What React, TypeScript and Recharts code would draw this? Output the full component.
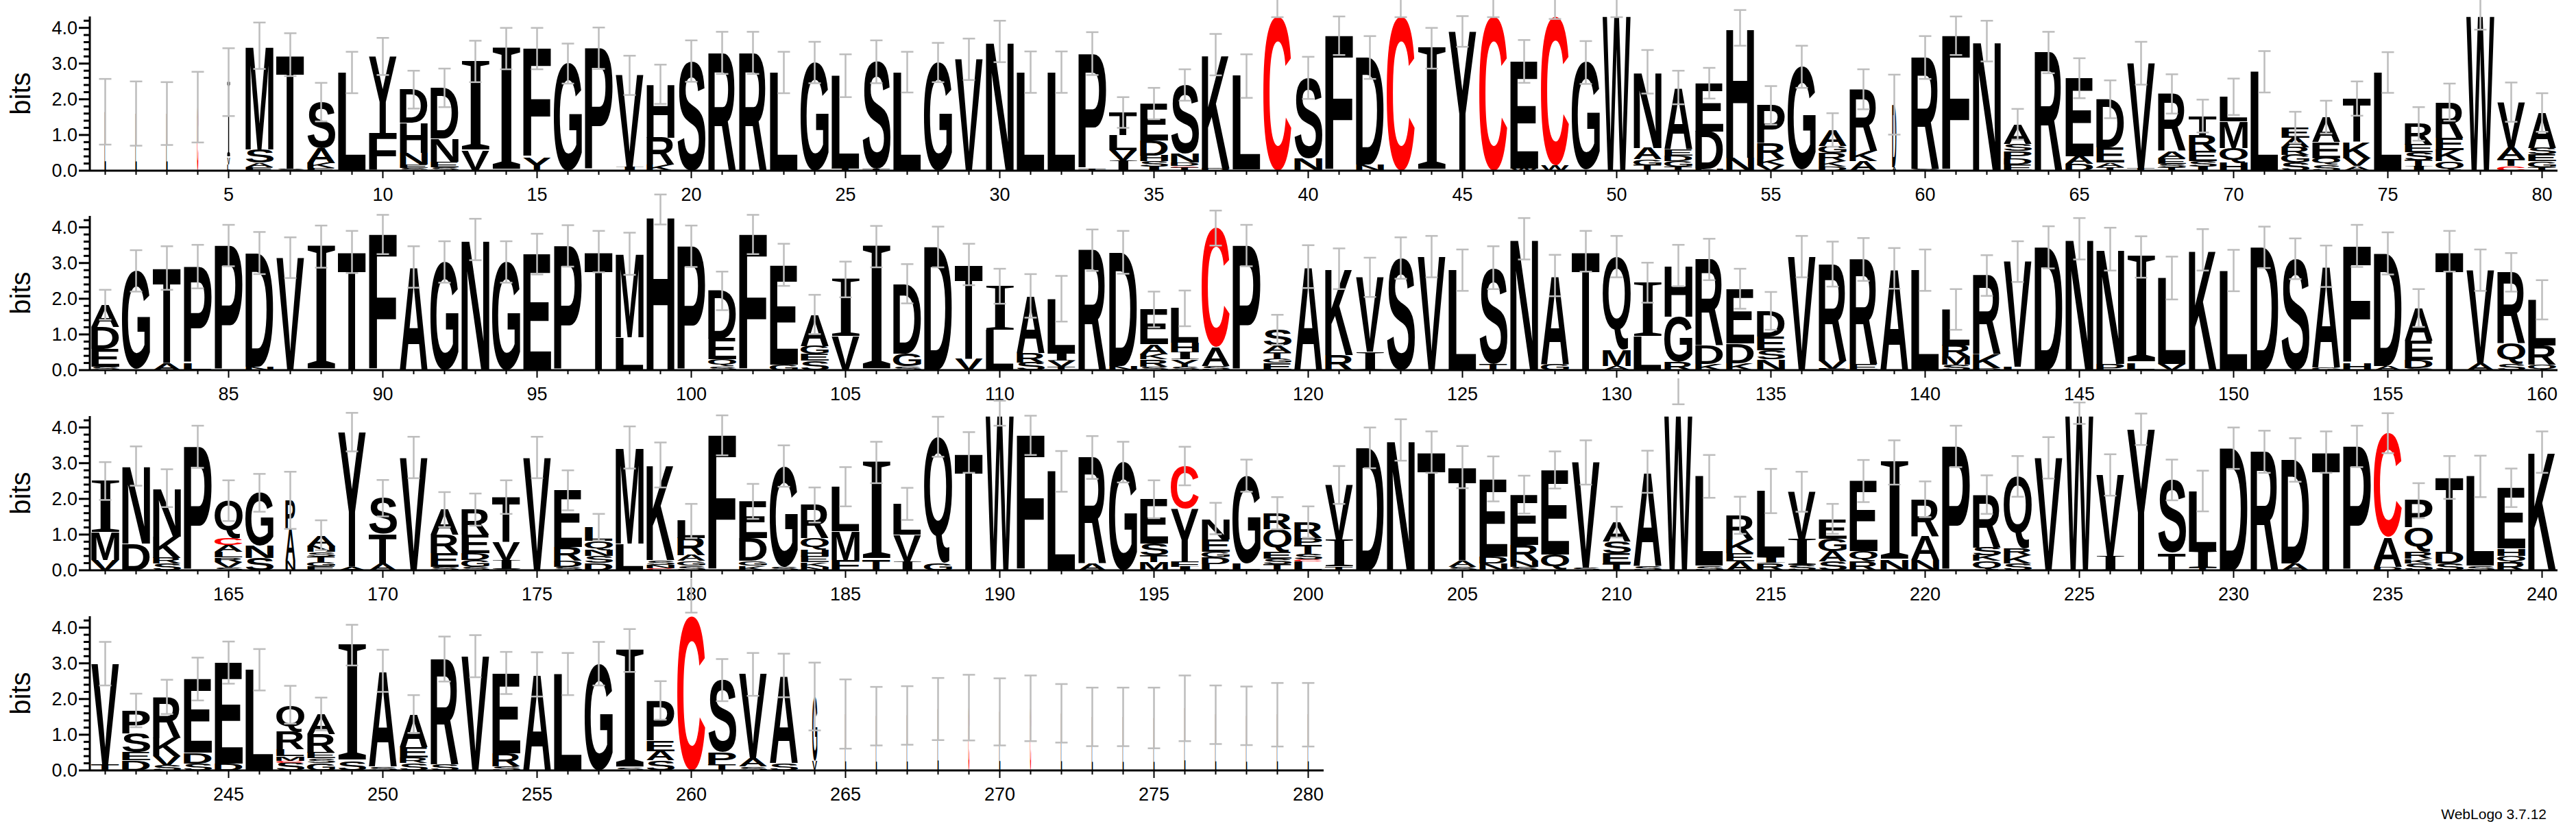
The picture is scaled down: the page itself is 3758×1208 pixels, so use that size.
import React from 'react';
import { ComposedChart, Bar, Line, XAxis, YAxis, ErrorBar } from 'recharts';

const LOGO_FONT = '"Liberation Sans", Arial, sans-serif';
const SERIF_FONT = '"Liberation Serif", "DejaVu Serif", serif';
const AXIS_FONT = '"Liberation Sans", Arial, sans-serif';

// each stack: letters from the top down, letter followed by its height in bits
const row1Stacks = [
  'L1.65', 'L1.6', 'L1.6', 'C1.78', 'I2.1 V.2 L.18', 'M2.9 S.38 A.12 E.1', 'T3.2 S.05', 'S1.28 A.42 K.15 E.07', 'L2.75', 'Y2.16 F1.04',
  'D.92 H.85 N.33 E.1 S.07', 'D1.42 N.65 E.15 S.1', 'I2.5 V.56', 'I3.42', 'F3.05 Y.37', 'G3.0', 'P3.43', 'V2.57 I.1', 'H1.5 R.75 K.17', 'S3.07',
  'R3.3', 'R3.3', 'L2.75', 'G3.03', 'L2.6 T.06', 'S3.0 T.05', 'L2.76', 'G3.03', 'V3.12', 'N3.62',
  'L2.76', 'L2.76', 'P3.23 T.05', 'T.64 L.42 V.29 I.28', 'E1.04 D.42 H.16 S.14 I.12', 'S1.92 N.25 D.1 C.03 T.1', 'K3.19 D.06', 'L2.62 E.03', 'C4.8', 'S2.25 N.33 D.02',
  'F3.78', 'D3.0 N.17', 'C4.8', 'I3.43', 'Y3.9', 'C4.8', 'E3.0 W.06', 'C4.5 W.15', 'G3.0 S.03', 'W4.75',
  'N2.13 A.32 G.16 T.16', 'A1.73 E.18 D.15 G.15 T.12', 'E1.35 D1.05 N.05', 'H3.64 N.36', 'P1.06 R.45 K.17 V.15', 'G2.88 T.03', 'A.45 G.2 R.22 K.15 D.12', 'R1.73 K.29 A.26', 'D1.75 A.1', 'R3.13 S.04',
  'F3.78', 'N3.63', 'A.55 S.2 P.2 D.17 E.18', 'R3.31', 'E2.18 A.22 D.19', 'D1.35 E.42 A.13 T.1', 'V2.95 T.06', 'R1.6 A.2 E.15 S.1 T.1', 'T.53 R.45 E.29 S.14 I.12', 'L.69 M.74 Q.42 H.22',
  'L2.77', 'E.29 A.26 R.22 G.22 S.22', 'A.7 E.45 Q.19 S.16', 'T1.22 K.45 V.22 A.13', 'L2.75', 'R.58 E.22 S.22 T.16 I.13', 'R.99 E.35 K.32 Q.26', 'W4.4', 'V1.28 A.32 T.19 C.13', 'A.99 S.19 E.19 G.16 T.1',
];
const row2Stacks = [
  'A.62 D.62 E.49 S.1', 'G2.75 A.03', 'T2.66 A.2', 'P2.7 L.2', 'P3.49', 'D3.18 N.1', 'V3.15', 'I3.46', 'T3.31', 'F3.8',
  'A2.89', 'G3.03', 'N3.66', 'G3.03', 'E3.25', 'P3.48', 'T3.32', 'M2.34 L.92', 'H4.5', 'P3.47',
  'D1.34 E.58 Q.2 S.1', 'F3.8', 'E2.79 G.16', 'A.88 G.23 E.19 S.26', 'I1.6 V.94', 'I3.46', 'D1.95 G.36 S.11', 'D3.45', 'T2.65 V.31', 'I1.23 L1.12',
  'A1.6 R.26 S.22', 'L1.53 I.2 V.17 T.1', 'R3.36', 'D3.18 N.12', 'E.97 A.28 K.15 R.2 S.1', 'L.97 H.26 I.2 Y.2 S.1', 'C3.34 A.52 S.12', 'P3.49', 'S.45 A.19 T.16 G.13 E.2', 'A2.9',
  'K2.42 R.42', 'V2.08 I.52', 'S3.14', 'V3.18', 'L2.8', 'S2.69 T.18', 'N3.68', 'A2.47 G.18', 'T3.33', 'Q2.61 M.45 A.12',
  'I1.51 L.94', 'H1.43 G1.27 R.23', 'R2.4 D.52 K.18', 'E1.53 D.55 K.2', 'D.71 E.39 S.26 N.3', 'V3.18', 'R2.7 V.23 E.04', 'R2.92 E.18', 'A2.85', 'L2.8',
  'L1.0 R.32 M.23 S.15', 'R2.21 K.39 D.05', 'V2.94 L.1', 'D3.44', 'N3.68', 'N3.21 P.18', 'I2.97 L.2', 'L2.4 V.18', 'K3.37', 'L2.79',
  'D3.44', 'S3.12', 'A2.84 G.07', 'F3.28 H.2', 'D3.15 A.12', 'A.91 E.55 D.23 S.05', 'T3.33', 'V2.6 A.2', 'R1.98 Q.58 S.18', 'L1.27 R.55 Q.15',
];
const row3Stacks = [
  'I1.44 M.77 V.29', 'N2.18 D.74', 'N1.35 K.6 R.16 S.19', 'P3.46', 'Q1.06 C.19 A.19 L.15 R.13 V.15 S.08', 'G1.48 N.35 S.34', 'P.8 A.9 N.26', 'A.3 N.17 S.13 T.14 G.13 E.11', 'Y3.77 A.1', 'S1.0 T.83 A.19',
  'V3.16', 'A.71 R.51 E.39 S.09', 'R.71 E.51 D.19 G.19 S.1', 'T1.27 V.51 I.23 S.04', 'V3.16', 'E1.59 R.39 D.16 S.1', 'L.39 Q.26 N.16 S.2 D.2', 'M2.7 L.74', 'K2.66 S.13 N.1 C.06', 'L.48 R.48 A.16 G.13 S.13',
  'F3.78', 'E1.03 D.64 G.13 K.13', 'G2.82 S.1', 'R.93 Q.32 H.19 E.16 K.13 N.1', 'L1.25 M.8 F.29', 'I2.72 T.3', 'L.87 V.74 I.25', 'Q3.54 G.2', 'T3.3', 'W4.4',
  'F3.78', 'L2.77', 'R2.97 A.19', 'G3.03', 'E1.25 S.32 T.19 M.23', 'C1.19 Y1.48 F.15 I.1', 'N.58 E.35 G.16 D.19 L.17', 'G2.45 L.2', 'R.45 Q.64 E.19 S.15 T.17', 'R.45 P.19 T.26 S.15 C.05 L.25',
  'V1.55 I.74 T.1', 'D3.43', 'N3.65', 'T3.31', 'T2.63 A.16 S.1', 'E2.17 D.19 N.2', 'E1.41 R.45 N.16 S.1', 'E2.36 Q.42 S.03', 'V2.95 S.07', 'A.55 S.32 E.29 T.19',
  'A2.63 S.13', 'W5.1', 'L2.5 S.13', 'R.67 K.39 E.23 A.25', 'L1.86 I.16 R.2', 'V1.35 I.71 S.14', 'E.55 G.35 A.29 S.25', 'E1.96 Q.29 R.25', 'I2.73 N.29', 'R1.03 A.67 N.29',
  'P3.47', 'R1.48 S.22 K.16 Q.26', 'Q2.02 R.19 K.22 S.2', 'V3.15', 'W4.4', 'V2.28 I.39', 'Y3.95', 'S2.05 T.48', 'L1.7 I.45 T.07', 'D3.42',
  'R3.32', 'D2.9 A.19', 'T3.31', 'P3.47', 'C2.91 A.83 D.1', 'P.76 Q.67 R.19 K.13 S.2', 'T2.09 D.32 S.19', 'L2.5 S.13', 'E1.7 H.2 Q.2 R.21', 'K3.31',
];
const row4Stacks = [
  'V2.81 T.18', 'P.65 S.52 E.23 D.28', 'R1.14 K.52 V.26 S.14', 'E2.07 D.29 S.2', 'E2.82 D.2', 'L2.82', 'Q.75 R.49 L.2 M.13 C.05 S.22', 'A.56 R.52 E.16 S.13 G.21', 'I3.25 S.26', 'A2.68 S.11',
  'A.92 E.3 R.15 S.21', 'R2.94 S.18', 'V3.2', 'E2.25 R.36 S.12', 'A2.69', 'L2.7', 'G2.99', 'I3.3 S.06', 'P1.13 E.29 A.26 S.28', 'C4.92',
  'S2.03 P.33 T.17', 'V2.35 A.23 S.11', 'A2.45 S.21', 'G1.8 V.27', 'L1.58', 'L1.52', 'L1.54', 'L1.72', 'C1.76', 'L1.64',
  'C1.74', 'L1.6', 'L1.5', 'L1.5', 'L1.47', 'L1.74', 'L1.56', 'L1.53', 'L1.56', 'L1.56',
];

// error bar half-lengths (bits)
const row1Err = [
  .92, .9, .88, .99, .95, .65, .6, .54, .58, .52, .53, .54, .58, .58, .58, .56, .58, .55, .55, .58,
  .59, .59, .58, .58, .6, .6, .57, .55, .58, .58, .58, .58, .6, .43, .44, .44, .58, .61, .5, .59,
  .54, .6, .5, .57, .43, .5, .6, .4, .6, .45, .61, .47, .43, .5, .54, .59, .47, .56, .84, .6,
  .54, .57, .43, .58, .56, .53, .6, .55, .46, .51, .58, .44, .46, .48, .57, .47, .52, .45, .55, .54,
];
const row2Err = [
  .42, .58, .61, .61, .58, .59, .57, .59, .59, .55, .58, .58, .58, .58, .57, .58, .58, .59, .42, .58,
  .54, .55, .59, .55, .5, .58, .55, .57, .58, .49, .61, .64, .58, .6, .5, .5, .49, .58, .42, .6,
  .57, .55, .58, .58, .58, .6, .58, .58, .57, .58, .56, .58, .58, .56, .53, .58, .63, .6, .57, .58,
  .57, .57, .57, .59, .58, .6, .58, .6, .58, .58, .58, .57, .58, .59, .59, .53, .57, .58, .54, .55,
];
const row3Err = [
  .53, .55, .53, .59, .57, .53, .8, .42, .54, .51, .58, .49, .45, .47, .58, .56, .37, .59, .63, .48,
  .56, .49, .58, .49, .55, .58, .45, .56, .57, .35, .55, .57, .6, .57, .53, .54, .44, .45, .45, .44,
  .53, .57, .58, .58, .59, .63, .53, .52, .62, .43, .59, .45, .6, .52, .62, .56, .42, .59, .62, .5,
  .58, .54, .57, .58, .3, .58, .44, .57, .57, .58, .59, .61, .58, .58, .56, .49, .6, .58, .54, .58,
];
const row4Err = [
  .61, .47, .48, .6, .59, .58, .53, .46, .57, .59, .53, .63, .59, .59, .62, .59, .61, .6, .54, .5,
  .59, .6, .61, .95, .97, .82, .82, .87, .92, .94, .92, .82, .82, .82, .85, .92, .82, .82, .89, .89,
];

// columns with few sequences are drawn narrower (fraction of full width)
const narrowCols: Record<number, number> = {
  1: .05, 2: .05, 3: .05, 4: .05, 5: .1, 59: .15, 167: .35, 264: .18,
  265: .04, 266: .04, 267: .04, 268: .04, 269: .04, 270: .04, 271: .04, 272: .04,
  273: .04, 274: .04, 275: .04, 276: .04, 277: .04, 278: .04, 279: .04, 280: .04,
};

const yTicks = [0, 0.2, 0.4, 0.6, 0.8, 1, 1.2, 1.4, 1.6, 1.8, 2, 2.2, 2.4, 2.6, 2.8, 3, 3.2, 3.4, 3.6, 3.8, 4, 4.2];

const SLOTS = 7;

const buildRow = (start: number, stacks: string[], errs: number[]) =>
  stacks.map((s, i) => {
    const pos = start + i;
    const parts = s.split(' ').map(t => ({ ch: t[0], h: parseFloat(t.slice(1)) })).reverse();
    const row: Record<string, any> = { pos, err: errs[i], occ: narrowCols[pos] ?? 1 };
    let total = 0;
    parts.forEach((p, k) => {
      row[`c${k}`] = p.ch;
      row[`h${k}`] = p.h;
      total += p.h;
    });
    row.top = total;
    return row;
  });

// 'I' is drawn with serifs, as in the original logo
const glyphFont = (ch: string) => (ch === 'I' ? SERIF_FONT : LOGO_FONT);
const glyphWeight = (ch: string) => (ch === 'I' ? 'normal' : 'bold');

const glyphCache: Record<string, { l: number; r: number; a: number; d: number }> = {};
const measureGlyph = (ch: string) => {
  if (!glyphCache[ch]) {
    const ctx = document.createElement('canvas').getContext('2d')!;
    ctx.font = `${glyphWeight(ch)} 100px ${glyphFont(ch)}`;
    const m = ctx.measureText(ch);
    glyphCache[ch] = {
      l: m.actualBoundingBoxLeft,
      r: m.actualBoundingBoxRight,
      a: m.actualBoundingBoxAscent,
      d: m.actualBoundingBoxDescent,
    };
  }
  return glyphCache[ch];
};

// stretch one glyph so its ink fills the bar rectangle
const makeLetter = (slot: number) => (props: any) => {
  const { x, y, width, height, payload } = props;
  const ch = payload?.[`c${slot}`];
  if (!ch || !(height > 0)) return <g />;
  const g = measureGlyph(ch);
  const w = width * payload.occ;
  const sx = w / (g.l + g.r);
  const sy = height / (g.a + g.d);
  return (
    <text
      transform={`translate(${x + (width - w) / 2},${y}) scale(${sx},${sy}) translate(${g.l},${g.a})`}
      fontFamily={glyphFont(ch)}
      fontWeight={glyphWeight(ch)}
      fontSize={100}
      fill={ch === 'C' ? '#ff0000' : '#000000'}
    >
      {ch}
    </text>
  );
};
const letterShapes = Array.from({ length: SLOTS }, (_, k) => makeLetter(k));

const XTick = (props: any) => {
  const { x, y, payload } = props;
  const major = payload.value % 5 === 0;
  return (
    <g>
      <line x1={x} x2={x} y1={y} y2={y + (major ? 11 : 6)} stroke="#000" strokeWidth={2} />
      {major && (
        <text x={x} y={y + 35} textAnchor="middle" dominantBaseline="central" fontSize={27} fontFamily={AXIS_FONT} fill="#000">
          {payload.value}
        </text>
      )}
    </g>
  );
};

const YTick = (props: any) => {
  const { x, y, payload } = props;
  const v = payload.value as number;
  const major = Math.abs(v - Math.round(v)) < 1e-6;
  return (
    <g>
      <line x1={x - (major ? 16 : 9)} x2={x} y1={y} y2={y} stroke="#000" strokeWidth={3} />
      {major && (
        <text x={x - 18} y={y} textAnchor="end" dominantBaseline="central" fontSize={27} fontFamily={AXIS_FONT} fill="#000">
          {v.toFixed(1)}
        </text>
      )}
    </g>
  );
};

const BitsLabel = (props: any) => {
  const { viewBox } = props;
  const cx = viewBox.x + 30;
  const cy = viewBox.y + viewBox.height / 2;
  return (
    <text x={cx} y={cy} transform={`rotate(-90, ${cx}, ${cy})`} textAnchor="middle" dominantBaseline="central" fontSize={40} fontFamily={AXIS_FONT} fill="#000">
      bits
    </text>
  );
};

interface LogoRowProps {
  data: Record<string, any>[];
  top: number;
  width: number;
  rightPad: number;
}

const LogoRow: React.FC<LogoRowProps> = ({ data, top, width, rightPad }) => (
  <div style={{ position: 'absolute', left: 0, top }}>
    <ComposedChart width={width} height={325} data={data} margin={{ top: 55, right: rightPad, bottom: 0, left: 0 }} barCategoryGap={2}>
      <XAxis
        dataKey="pos"
        type="category"
        interval={0}
        height={45}
        tickSize={0}
        tickMargin={0}
        tickLine={false}
        axisLine={{ stroke: '#000', strokeWidth: 3 }}
        tick={<XTick />}
      />
      <YAxis
        type="number"
        domain={[0, 4.32]}
        allowDataOverflow
        ticks={yTicks}
        interval={0}
        width={131}
        tickSize={0}
        tickMargin={0}
        tickLine={false}
        axisLine={{ stroke: '#000', strokeWidth: 3 }}
        tick={<YTick />}
        label={<BitsLabel />}
      />
      {letterShapes.map((shape, k) => (
        <Bar key={k} dataKey={`h${k}`} stackId="logo" shape={shape} isAnimationActive={false} />
      ))}
      <Line dataKey="top" stroke="none" dot={false} activeDot={false} isAnimationActive={false} legendType="none">
        <ErrorBar dataKey="err" direction="y" width={9} stroke="#bdbdbd" strokeWidth={2.5} isAnimationActive={false} />
      </Line>
    </ComposedChart>
  </div>
);

const rows = [
  { data: buildRow(1, row1Stacks, row1Err), top: -31, width: 3758, rightPad: 27 },
  { data: buildRow(81, row2Stacks, row2Err), top: 260, width: 3758, rightPad: 27 },
  { data: buildRow(161, row3Stacks, row3Err), top: 552, width: 3758, rightPad: 27 },
  { data: buildRow(241, row4Stacks, row4Err), top: 844, width: 1941, rightPad: 10 },
];

export default function App() {
  return (
    <div style={{ position: 'relative', width: 3758, height: 1208, overflow: 'hidden', background: '#fff' }}>
      <style>{'body{margin:0} .recharts-surface [clip-path]{clip-path:none !important}'}</style>
      {rows.map((r, i) => (
        <LogoRow key={i} data={r.data} top={r.top} width={r.width} rightPad={r.rightPad} />
      ))}
      <div style={{ position: 'absolute', right: 43, top: 1176, fontFamily: AXIS_FONT, fontSize: 21, color: '#000' }}>
        WebLogo 3.7.12
      </div>
    </div>
  );
}
